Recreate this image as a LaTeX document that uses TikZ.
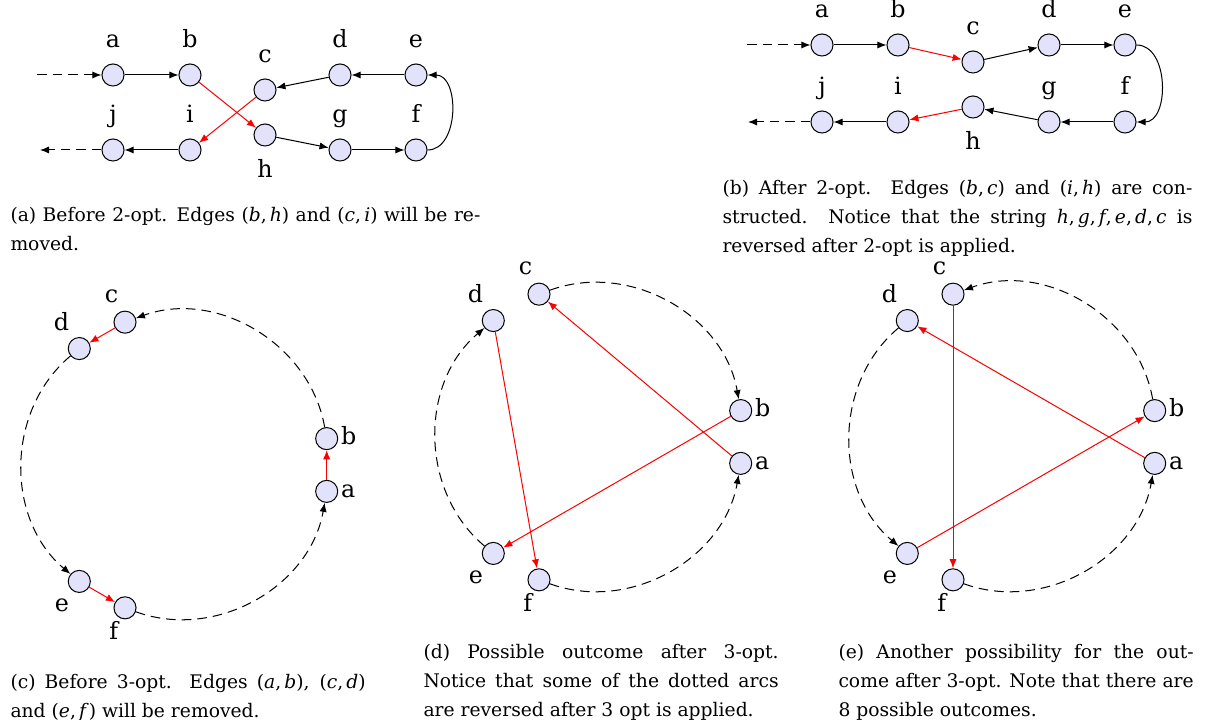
\documentclass[tikz,border=0pt]{standalone}
\usepackage{fontspec}
\setmainfont{DejaVu Serif}
\usetikzlibrary{arrows.meta}
\definecolor{vtxfill}{RGB}{226,226,250}
\newcommand\capfont{\fontsize{7.8pt}{12pt}\selectfont}
\newcommand\lblfont{\fontsize{9.9pt}{12pt}\selectfont}

\begin{document}
\begin{tikzpicture}[>={Latex[length=3.8pt,width=3pt]},x=0.4167pt,y=0.4167pt,line width=0.42pt]
  \tikzstyle{vtx}=[draw,circle,fill=vtxfill,minimum size=9.2pt,inner sep=0pt]
  \tikzstyle{every label}=[font=\lblfont,inner sep=1pt,text height=0.75em,text depth=0.25em]
  \tikzstyle{tour}=[->,black]
  \tikzstyle{swap}=[->,red]
  \tikzstyle{rest}=[->,dash pattern=on 4pt off 2.5pt]
  \tikzstyle{captxt}=[font=\capfont,anchor=base west,inner sep=0pt,text width=195.8pt,align=justify]
  \useasboundingbox (0,0) rectangle (1206,-720);

  % (a) before 2-opt
  \begin{scope}[label distance=2.8pt]
    \node[vtx,label=above:a] (a1) at (113,-75) {};
    \node[vtx,label=above:b] (b1) at (190,-75) {};
    \node[vtx,label=above:c] (c1) at (265,-90) {};
    \node[vtx,label=above:d] (d1) at (340,-75) {};
    \node[vtx,label=above:e] (e1) at (416,-75) {};
    \node[vtx,label=above:j] (j1) at (113,-150) {};
    \node[vtx,label=above:i] (i1) at (190,-150) {};
    \node[vtx,label={[label distance=4pt]below:h}] (h1) at (265,-135) {};
    \node[vtx,label=above:g] (g1) at (340,-150) {};
    \node[vtx,label=above:f] (f1) at (416,-150) {};
  \end{scope}
  \coordinate (in1) at (37,-75);
  \coordinate (out1) at (40,-150);
  \draw[rest] (in1) -- (a1);
  \draw[tour] (a1) -- (b1);
  \draw[swap] (b1) -- (h1);
  \draw[tour] (h1) -- (g1);
  \draw[tour] (g1) -- (f1);
  \draw[tour] (f1) to[out=0,in=0,looseness=1.1] (e1);
  \draw[tour] (e1) -- (d1);
  \draw[tour] (d1) -- (c1);
  \draw[swap] (c1) -- (i1);
  \draw[tour] (i1) -- (j1);
  \draw[rest] (j1) -- (out1);
  \node[captxt] (capa) at (10,-222) {(a) Before 2-opt. Edges (\textit{b},\,\textit{h}) and (\textit{c},\,\textit{i}) will be re-\linebreak moved.};

  % (b) after 2-opt
  \begin{scope}[label distance=2.8pt]
    \node[vtx,label=above:a] (a2) at (822,-45) {};
    \node[vtx,label=above:b] (b2) at (898,-45) {};
    \node[vtx,label=above:c] (c2) at (973,-62) {};
    \node[vtx,label=above:d] (d2) at (1049,-45) {};
    \node[vtx,label=above:e] (e2) at (1125,-45) {};
    \node[vtx,label=above:j] (j2) at (822,-122) {};
    \node[vtx,label=above:i] (i2) at (898,-122) {};
    \node[vtx,label={[label distance=4pt]below:h}] (h2) at (973,-107) {};
    \node[vtx,label=above:g] (g2) at (1049,-122) {};
    \node[vtx,label=above:f] (f2) at (1125,-122) {};
  \end{scope}
  \coordinate (in2) at (747,-45);
  \coordinate (out2) at (748,-122);
  \draw[rest] (in2) -- (a2);
  \draw[tour] (a2) -- (b2);
  \draw[swap] (b2) -- (c2);
  \draw[tour] (c2) -- (d2);
  \draw[tour] (d2) -- (e2);
  \draw[tour] (e2) to[out=0,in=0,looseness=1.1] (f2);
  \draw[tour] (f2) -- (g2);
  \draw[tour] (g2) -- (h2);
  \draw[swap] (h2) -- (i2);
  \draw[tour] (i2) -- (j2);
  \draw[rest] (j2) -- (out2);
  \node[captxt] (capb) at (722,-195) {(b) After 2-opt. Edges (\textit{b},\,\textit{c}) and (\textit{i},\,\textit{h}) are con-\linebreak structed. Notice that the string \textit{h},\,\textit{g},\,\textit{f},\,\textit{e},\,\textit{d},\,\textit{c} is\linebreak reversed after 2-opt is applied.};

  % (c) before 3-opt
  \begin{scope}[shift={(177,-465)}]
    \node[vtx,label=right:a] (a3) at (-10:152) {};
    \node[vtx,label=right:b] (b3) at (10:152) {};
    \node[vtx,label=110:c] (c3) at (110:152) {};
    \node[vtx,label=130:d] (d3) at (130:152) {};
    \node[vtx,label=230:e] (e3) at (230:152) {};
    \node[vtx,label=250:f] (f3) at (250:152) {};
  \end{scope}
  \draw[swap] (a3) -- (b3);
  \draw[swap] (c3) -- (d3);
  \draw[swap] (e3) -- (f3);
  \draw[rest] (b3) to[bend right=50] (c3);
  \draw[rest] (d3) to[bend right=50] (e3);
  \draw[rest] (f3) to[bend right=50] (a3);
  \node[captxt,text width=148pt] (capc) at (10,-689) {(c) Before 3-opt. Edges (\textit{a},\,\textit{b}), (\textit{c},\,\textit{d})\linebreak and (\textit{e},\,\textit{f}) will be removed.};

  % (d) one outcome of 3-opt
  \begin{scope}[shift={(591,-437)}]
    \node[vtx,label=right:a] (a4) at (-10:152) {};
    \node[vtx,label=right:b] (b4) at (10:152) {};
    \node[vtx,label=110:c] (c4) at (110:152) {};
    \node[vtx,label=130:d] (d4) at (130:152) {};
    \node[vtx,label=230:e] (e4) at (230:152) {};
    \node[vtx,label=250:f] (f4) at (250:152) {};
  \end{scope}
  \draw[swap] (a4) -- (c4);
  \draw[swap] (b4) -- (e4);
  \draw[swap] (d4) -- (f4);
  \draw[rest] (c4) to[bend left=50] (b4);
  \draw[rest] (e4) to[bend left=50] (d4);
  \draw[rest] (f4) to[bend right=50] (a4);
  \node[captxt,text width=148pt] (capd) at (423,-659) {(d) Possible outcome after 3-opt.\linebreak Notice that some of the dotted arcs\linebreak are reversed after 3 opt is applied.};

  % (e) another outcome of 3-opt
  \begin{scope}[shift={(1005,-437)}]
    \node[vtx,label=right:a] (a5) at (-10:152) {};
    \node[vtx,label=right:b] (b5) at (10:152) {};
    \node[vtx,label=110:c] (c5) at (110:152) {};
    \node[vtx,label=130:d] (d5) at (130:152) {};
    \node[vtx,label=230:e] (e5) at (230:152) {};
    \node[vtx,label=250:f] (f5) at (250:152) {};
  \end{scope}
  \draw[swap] (c5) -- (f5);
  \draw[swap] (a5) -- (d5);
  \draw[swap] (e5) -- (b5);
  \draw[rest] (b5) to[bend right=50] (c5);
  \draw[rest] (d5) to[bend right=50] (e5);
  \draw[rest] (f5) to[bend right=50] (a5);
  \node[captxt,text width=148pt] (cape) at (838,-659) {(e) Another possibility for the out-\linebreak come after 3-opt. Note that there are\linebreak 8 possible outcomes.};
\end{tikzpicture}
\end{document}
